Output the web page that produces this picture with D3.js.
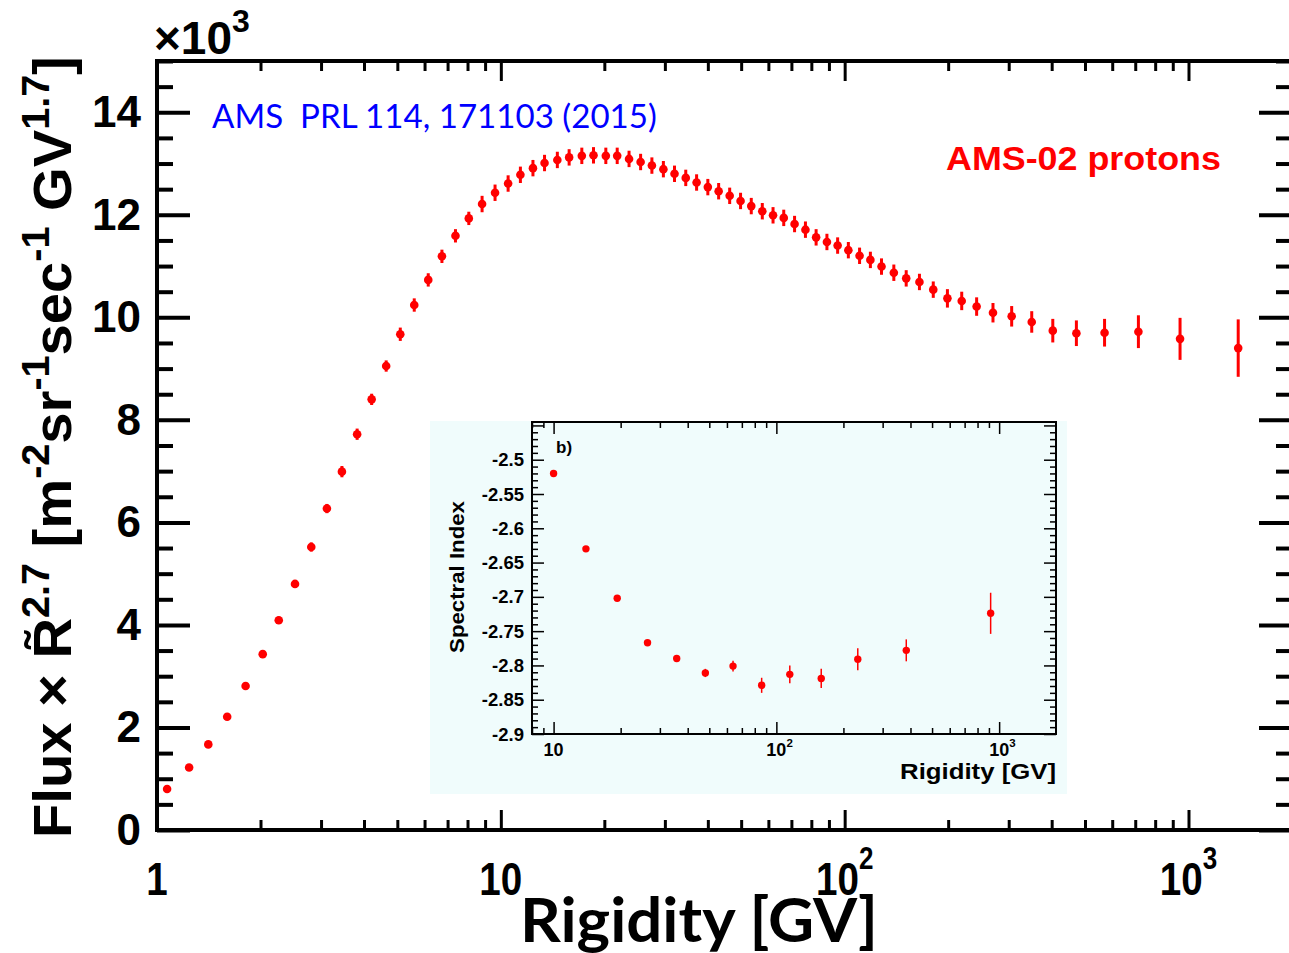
<!DOCTYPE html>
<html><head><meta charset="utf-8">
<script src="https://cdn.jsdelivr.net/npm/d3@7"></script>
<style>body{margin:0;background:#fff;overflow:hidden} svg{display:block}</style>
</head><body>
<svg id="c" width="1289" height="953"></svg>
<script>
// ---------- data (main panel) ----------
const rigidity = [1.07,1.24,1.41,1.60,1.81,2.03,2.26,2.52,2.81,3.12,
  3.45,3.82,4.21,4.64,5.10,5.60,6.15,6.74,7.38,8.07,
  8.82,9.62,10.5,11.4,12.4,13.4,14.6,15.8,17.2,18.6,
  20.2,21.8,23.6,25.5,27.5,29.7,32.0,34.5,37.1,40.0,
  43.0,46.3,49.8,53.5,57.6,61.9,66.5,71.5,76.9,82.6,
  88.8,95.4,102.5,110.5,118.8,128,139,151,165,181,
  199,219,242,270,306,350,403,472,570,715,945,1395];
const fluxR27 = [0.80,1.22,1.67,2.21,2.81,3.43,4.09,4.80,5.52,6.27,
  6.99,7.72,8.40,9.05,9.67,10.24,10.73,11.19,11.59,11.93,
  12.21,12.43,12.61,12.78,12.91,13.01,13.07,13.12,13.15,13.16,
  13.15,13.15,13.09,13.03,12.96,12.89,12.80,12.72,12.63,12.54,
  12.46,12.37,12.27,12.17,12.07,11.99,11.94,11.82,11.71,11.56,
  11.47,11.40,11.31,11.20,11.12,10.99,10.87,10.76,10.69,10.54,
  10.37,10.32,10.21,10.09,10.02,9.91,9.74,9.69,9.70,9.72,9.58,9.40];
const fluxErr = [0.05,0.05,0.05,0.05,0.05,0.05,0.07,0.07,0.09,0.09,
  0.11,0.11,0.11,0.11,0.13,0.13,0.13,0.13,0.13,0.13,
  0.16,0.16,0.16,0.16,0.16,0.16,0.16,0.16,0.16,0.16,
  0.16,0.16,0.16,0.16,0.16,0.16,0.16,0.16,0.16,0.16,
  0.16,0.16,0.16,0.16,0.16,0.16,0.16,0.16,0.16,0.16,
  0.16,0.16,0.16,0.16,0.16,0.16,0.16,0.16,0.16,0.16,
  0.18,0.18,0.18,0.19,0.20,0.21,0.23,0.25,0.27,0.32,0.41,0.56];
const mainXTicks = [1,10,100,1000];
const mainXTickBase = ["1","10","10","10"];
const mainXTickExp = ["","","2","3"];
const mainYTicks = [0,2,4,6,8,10,12,14];
const mainYTickLabels = ["0","2","4","6","8","10","12","14"];

// ---------- data (inset b) ----------
const insetRigidity = [10.0,13.97,19.3,26.4,35.7,48.0,63.9,85.9,114.9,159,232,383,916];
const spectralIndex = [-2.520,-2.630,-2.702,-2.767,-2.790,-2.811,-2.801,-2.829,-2.813,-2.819,-2.791,-2.778,-2.724];
const spectralIndexErr = [0.002,0.002,0.002,0.003,0.004,0.006,0.008,0.011,0.013,0.014,0.016,0.016,0.030];
const insetYTicks = [-2.9,-2.85,-2.8,-2.75,-2.7,-2.65,-2.6,-2.55,-2.5];
const insetYTickLabels = ["-2.9","-2.85","-2.8","-2.75","-2.7","-2.65","-2.6","-2.55","-2.5"];
const insetXTicks = [10,100,1000];
const insetXTickBase = ["10","10","10"];
const insetXTickExp = ["","2","3"];

const svg = d3.select("#c");
const RED = "#ff0000";
const SANS = "'Liberation Sans',Arial,sans-serif";

function logTicks(min, max){
  const out=[]; for(let d=1; d<=max*10; d*=10) for(let k=1;k<10;k++){const v=d*k; if(v>=min-1e-9 && v<=max+1e-9) out.push(v);} return out;
}
function fitWidth(sel, w){
  const cur = sel.node().getComputedTextLength();
  return cur>0 ? w/cur : 1;
}

// ---------- main panel ----------
const L=157, R=1292, T=61, B=830;
const x = d3.scaleLog().domain([1,2000]).range([L,R]);
const y = d3.scaleLinear().domain([0,15]).range([B,T]);

const allX = logTicks(1,1999);
const minorX = allX.filter(v=>!mainXTicks.includes(v));
function drawTicks(g0, axisFn, scale, values, size, pos, sw){
  const g = g0.append("g").attr("transform", pos)
    .call(axisFn(scale).tickValues(values).tickSizeInner(size).tickSizeOuter(0).tickFormat(""));
  g.select(".domain").remove();
  g.selectAll("line").attr("stroke","#000").attr("stroke-width",sw);
  return g;
}
drawTicks(svg, d3.axisBottom, x, minorX, -10, `translate(0,${B})`, 3);
drawTicks(svg, d3.axisBottom, x, mainXTicks, -20, `translate(0,${B})`, 3);
drawTicks(svg, d3.axisTop, x, minorX, -10, `translate(0,${T})`, 3);
drawTicks(svg, d3.axisTop, x, mainXTicks, -20, `translate(0,${T})`, 3);
const minorY = d3.range(0,15.01,0.5).filter(v=>Math.abs(v/2-Math.round(v/2))>1e-6);
drawTicks(svg, d3.axisLeft, y, minorY, -16, `translate(${L},0)`, 4);
drawTicks(svg, d3.axisLeft, y, mainYTicks, -33, `translate(${L},0)`, 4);
drawTicks(svg, d3.axisRight, y, minorY, -16, `translate(${R},0)`, 4);
drawTicks(svg, d3.axisRight, y, mainYTicks, -33, `translate(${R},0)`, 4);
svg.append("rect").attr("x",L).attr("y",T).attr("width",R-L).attr("height",B-T)
  .attr("fill","none").attr("stroke","#000").attr("stroke-width",4);

// y tick labels
svg.append("g").selectAll("text").data(mainYTicks).join("text")
  .attr("x",141).attr("y",d=>y(d)+15).attr("text-anchor","end")
  .attr("font-family",SANS).attr("font-weight","bold").attr("font-size",44)
  .text((d,i)=>mainYTickLabels[i]);

// x tick labels (condensed, centred on tick)
mainXTicks.forEach((v,i)=>{
  const t = svg.append("text").attr("font-family",SANS).attr("font-weight","bold")
    .attr("font-size",46).attr("text-anchor","middle")
    .attr("transform",`translate(${x(v)},895) scale(0.84,1)`);
  t.append("tspan").text(mainXTickBase[i]);
  if(mainXTickExp[i]) t.append("tspan").attr("font-size",31).attr("dy",-26).text(mainXTickExp[i]);
});
// x10^3
const mult = svg.append("text").attr("font-family",SANS)
  .attr("font-weight","bold").attr("font-size",46)
  .attr("transform","translate(154,54)");
mult.append("tspan").text("\u00d710");
mult.append("tspan").attr("font-size",32).attr("dy",-22).text("3");

// x axis title
const xt = svg.append("text").attr("font-family","Lato,'Open Sans',sans-serif").attr("font-weight","bold")
  .attr("font-size",62).attr("text-anchor","middle").text("Rigidity [GV]");
xt.attr("transform",`translate(699,942) scale(${fitWidth(xt,358)},1)`);

// y axis title
const yt = svg.append("text").attr("font-family",SANS).attr("font-weight","bold").attr("font-size",54);
yt.append("tspan").text("Flux \u00d7 R\u0303");
yt.append("tspan").attr("font-size",38).attr("dy",-22).text("2.7");
yt.append("tspan").attr("dy",22).text(" [m");
yt.append("tspan").attr("font-size",38).attr("dy",-22).text("-2");
yt.append("tspan").attr("dy",22).text("sr");
yt.append("tspan").attr("font-size",38).attr("dy",-22).text("-1");
yt.append("tspan").attr("dy",22).text("sec");
yt.append("tspan").attr("font-size",38).attr("dy",-22).text("-1");
yt.append("tspan").attr("dy",22).text(" GV");
yt.append("tspan").attr("font-size",38).attr("dy",-22).text("1.7");
yt.append("tspan").attr("dy",22).text("]");
yt.attr("transform",`translate(71,838) rotate(-90) scale(${fitWidth(yt,782)},1)`);

// annotations
const ref = svg.append("text").attr("font-family","Lato,'Open Sans',sans-serif").attr("font-size",32)
  .attr("fill","#0000ff").style("white-space","pre").text("AMS  PRL 114, 171103 (2015)");
ref.attr("transform",`translate(212,128) scale(${fitWidth(ref,445)},1)`);
const lab = svg.append("text").attr("font-family",SANS).attr("font-weight","bold").attr("font-size",33)
  .attr("fill",RED).text("AMS-02 protons");
lab.attr("transform",`translate(946,170) scale(${fitWidth(lab,275)},1)`);

// ---------- inset b) ----------
const IL=532, IR=1056, IT=422, IB=734;
const insetG = svg.append("g");
insetG.append("rect").attr("x",430).attr("y",421).attr("width",637).attr("height",373).attr("fill","#f0fcfc");
const xi = d3.scaleLog().domain([8,1800]).range([IL,IR]);
const yi = d3.scaleLinear().domain([-2.9,-2.445]).range([IB,IT]);
const iAllX = logTicks(8,1800);
const iMinorX = iAllX.filter(v=>!insetXTicks.includes(v));
drawTicks(insetG, d3.axisBottom, xi, iMinorX, -6, `translate(0,${IB})`, 1.5);
drawTicks(insetG, d3.axisBottom, xi, insetXTicks, -12, `translate(0,${IB})`, 1.5);
drawTicks(insetG, d3.axisTop, xi, iMinorX, -6, `translate(0,${IT})`, 1.5);
drawTicks(insetG, d3.axisTop, xi, insetXTicks, -12, `translate(0,${IT})`, 1.5);
const iMinorY = d3.range(-2.9,-2.445,0.01).map(v=>+v.toFixed(3)).filter(v=>Math.abs(v*20-Math.round(v*20))>1e-6);
const iMajorY = insetYTicks.concat([-2.45]);
drawTicks(insetG, d3.axisLeft, yi, iMinorY, -6, `translate(${IL},0)`, 1.5);
drawTicks(insetG, d3.axisLeft, yi, iMajorY, -12, `translate(${IL},0)`, 1.5);
drawTicks(insetG, d3.axisRight, yi, iMinorY, -6, `translate(${IR},0)`, 1.5);
drawTicks(insetG, d3.axisRight, yi, iMajorY, -12, `translate(${IR},0)`, 1.5);
insetG.append("rect").attr("x",IL).attr("y",IT).attr("width",IR-IL).attr("height",IB-IT)
  .attr("fill","none").attr("stroke","#000").attr("stroke-width",2);
insetG.selectAll("text.yl").data(insetYTicks).join("text").attr("class","yl")
  .attr("x",524).attr("y",d=>yi(d)+6.5).attr("text-anchor","end")
  .attr("font-family",SANS).attr("font-weight","bold").attr("font-size",18.5)
  .text((d,i)=>insetYTickLabels[i]);
insetXTicks.forEach((v,i)=>{
  const t = insetG.append("text").attr("font-family",SANS).attr("font-weight","bold")
    .attr("font-size",18).attr("y",756).attr("x",xi(v)-10);
  t.append("tspan").text(insetXTickBase[i]);
  if(insetXTickExp[i]) t.append("tspan").attr("font-size",11.5).attr("dy",-9).text(insetXTickExp[i]);
});
const ixt = insetG.append("text").attr("font-family",SANS).attr("font-weight","bold").attr("font-size",22)
  .attr("text-anchor","end").text("Rigidity [GV]");
ixt.attr("transform",`translate(1056,779) scale(${fitWidth(ixt,156)},1)`);
const iyt = insetG.append("text").attr("font-family",SANS).attr("font-weight","bold").attr("font-size",21)
  .attr("text-anchor","middle").text("Spectral Index");
iyt.attr("transform",`translate(464,577) rotate(-90) scale(${fitWidth(iyt,152)},1)`);
insetG.append("text").attr("x",556).attr("y",453).attr("font-family",SANS).attr("font-weight","bold")
  .attr("font-size",17).text("b)");
const ip = insetG.append("g");
ip.selectAll("line").data(insetRigidity).join("line")
  .attr("x1",d=>xi(d)).attr("x2",d=>xi(d))
  .attr("y1",(d,i)=>yi(spectralIndex[i]-spectralIndexErr[i])).attr("y2",(d,i)=>yi(spectralIndex[i]+spectralIndexErr[i]))
  .attr("stroke",RED).attr("stroke-width",1.5);
ip.selectAll("circle").data(insetRigidity).join("circle")
  .attr("cx",d=>xi(d)).attr("cy",(d,i)=>yi(spectralIndex[i])).attr("r",3.7).attr("fill",RED);

// ---------- main data points ----------
const mp = svg.append("g");
mp.selectAll("line").data(rigidity).join("line")
  .attr("x1",d=>x(d)).attr("x2",d=>x(d))
  .attr("y1",(d,i)=>y(fluxR27[i]-fluxErr[i])).attr("y2",(d,i)=>y(fluxR27[i]+fluxErr[i]))
  .attr("stroke",RED).attr("stroke-width",3);
mp.selectAll("circle").data(rigidity).join("circle")
  .attr("cx",d=>x(d)).attr("cy",(d,i)=>y(fluxR27[i])).attr("r",4.3).attr("fill",RED);
</script>
</body></html>
